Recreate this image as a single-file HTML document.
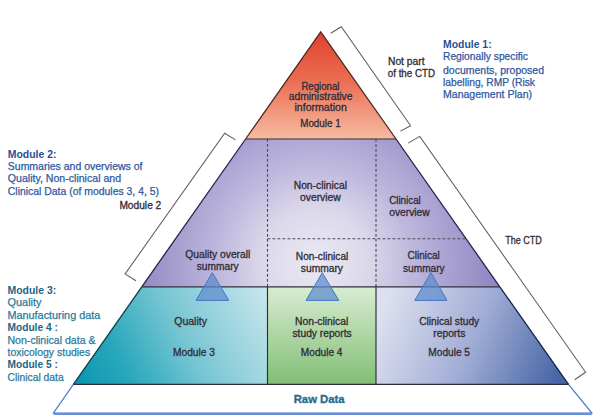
<!DOCTYPE html>
<html><head><meta charset="utf-8"><style>
html,body{margin:0;padding:0;background:#fff;}
body{width:600px;height:415px;overflow:hidden;}
svg{display:block;}
text{font-family:"Liberation Sans",sans-serif;}
.lab{font-size:10px;fill:#302c36;stroke:#302c36;stroke-width:0.3;}
.blu{font-size:10.5px;fill:#3058a0;stroke:#3058a0;stroke-width:0.25;}
.blub{font-size:10.5px;fill:#2b4f96;font-weight:bold;}
.tea{font-size:10.5px;fill:#2a7b9c;stroke:#2a7b9c;stroke-width:0.25;}
.teab{font-size:10.5px;fill:#1d6686;font-weight:bold;}
</style></head><body>
<svg width="600" height="415" viewBox="0 0 600 415">
<defs>
<linearGradient id="gRed" x1="0" y1="0" x2="0" y2="1">
<stop offset="0" stop-color="#e0412e"/>
<stop offset="0.45" stop-color="#ea6d52"/>
<stop offset="1" stop-color="#f6bba2"/>
</linearGradient>
<radialGradient id="gPur" gradientUnits="userSpaceOnUse" cx="315" cy="262" r="190" fx="315" fy="262">
<stop offset="0" stop-color="#ebe9f3"/>
<stop offset="0.28" stop-color="#dcd8eb"/>
<stop offset="0.5" stop-color="#c0b9de"/>
<stop offset="0.75" stop-color="#a59ccf"/>
<stop offset="1" stop-color="#8c81be"/>
</radialGradient>
<linearGradient id="gTeal" gradientUnits="userSpaceOnUse" x1="80" y1="384" x2="268" y2="287">
<stop offset="0" stop-color="#0d98b0"/>
<stop offset="0.22" stop-color="#28a7bc"/>
<stop offset="0.52" stop-color="#74c4d1"/>
<stop offset="1" stop-color="#c9e7ed"/>
</linearGradient>
<linearGradient id="gGreen" x1="0" y1="0" x2="0" y2="1">
<stop offset="0" stop-color="#d8ecd2"/>
<stop offset="1" stop-color="#82bf75"/>
</linearGradient>
<linearGradient id="gBlue" gradientUnits="userSpaceOnUse" x1="385" y1="300" x2="560" y2="372">
<stop offset="0" stop-color="#dde0ef"/>
<stop offset="0.5" stop-color="#a2aed6"/>
<stop offset="1" stop-color="#4866a6"/>
</linearGradient>
</defs>

<!-- raw data trapezoid -->
<polygon points="73.4,384.3 568.5,384.3 591.8,413 53.5,413" fill="#fff" stroke="#4a78d0" stroke-width="1.2"/>
<line x1="53.5" y1="414" x2="591.8" y2="414" stroke="#6a8fd8" stroke-width="2"/>

<!-- module 1 -->
<polygon points="320.7,32 396,139 246,139" fill="url(#gRed)"/>
<!-- module 2 -->
<polygon points="245.6,139 396,139 499.8,286.8 141.8,286.8" fill="url(#gPur)"/>
<!-- module 3 -->
<polygon points="141.8,286.8 267.5,286.8 267.5,384.3 73.4,384.3" fill="url(#gTeal)"/>
<!-- module 4 -->
<rect x="267.5" y="286.8" width="108.5" height="97.5" fill="url(#gGreen)"/>
<!-- module 5 -->
<polygon points="376,286.8 499.8,286.8 568.5,384.3 376,384.3" fill="url(#gBlue)"/>

<!-- dashed lines -->
<g stroke="#4a4858" stroke-width="1.1" stroke-dasharray="2.8,2.2" fill="none">
<line x1="267.5" y1="139" x2="267.5" y2="286.8"/>
<line x1="376" y1="139" x2="376" y2="286.8"/>
<line x1="267.5" y1="238.7" x2="466" y2="238.7"/>
</g>
<!-- solid lines -->
<g stroke="#2e2e3a" stroke-width="1.15" fill="none">
<line x1="246" y1="139" x2="396" y2="139"/>
<line x1="141.8" y1="286.8" x2="499.8" y2="286.8"/>
<line x1="73.4" y1="384.3" x2="568.5" y2="384.3"/>
<line x1="267.5" y1="286.8" x2="267.5" y2="384.3"/>
<line x1="376" y1="286.8" x2="376" y2="384.3"/>
</g>
<!-- outline -->
<g fill="none" stroke-width="1.3">
<polyline points="245.6,139 320.7,32 396,139" stroke="#4a2620"/>
<line x1="245.6" y1="139" x2="141.8" y2="286.8" stroke="#25244a"/>
<line x1="396" y1="139" x2="499.8" y2="286.8" stroke="#25244a"/>
<line x1="141.8" y1="286.8" x2="73.4" y2="384.3" stroke="#103e48"/>
<line x1="499.8" y1="286.8" x2="568.5" y2="384.3" stroke="#18224a"/>
</g>

<!-- small triangles -->
<g fill="#5d8acc" fill-opacity="0.72" stroke="#4676c4" stroke-width="1">
<polygon points="212.3,272.7 228.8,300.4 196,300.4"/>
<polygon points="322.3,272.7 338.8,300.4 306,300.4"/>
<polygon points="431,272.7 447,300.4 414.7,300.4"/>
</g>

<!-- brackets -->
<g stroke="#5e5e5e" stroke-width="1.05" fill="none">
<polyline points="330.7,33.3 341.3,26.7 410.6,125.7 400.4,131.1"/>
<polyline points="408.2,143.1 419.75,136.4 585.6,372.3 574.6,379.7"/>
<polyline points="235.5,139.9 224.7,133.3 125.1,273.9 135.9,280.7"/>
</g>

<!-- pyramid labels -->
<g class="lab">
<text x="301.4" y="89.5" textLength="38.1" lengthAdjust="spacingAndGlyphs">Regional</text>
<text x="288.7" y="100.3" textLength="63.8" lengthAdjust="spacingAndGlyphs">administrative</text>
<text x="294.5" y="111.1" textLength="52.3" lengthAdjust="spacingAndGlyphs">information</text>
<text x="300.2" y="127" textLength="40.5" lengthAdjust="spacingAndGlyphs">Module 1</text>

<text x="185.3" y="258.3" textLength="65" lengthAdjust="spacingAndGlyphs">Quality overall</text>
<text x="196.7" y="269.5" textLength="42" lengthAdjust="spacingAndGlyphs">summary</text>

<text x="293.7" y="188.7" textLength="53.3" lengthAdjust="spacingAndGlyphs">Non-clinical</text>
<text x="300" y="200.5" textLength="40.8" lengthAdjust="spacingAndGlyphs">overview</text>

<text x="295.8" y="259.7" textLength="52.5" lengthAdjust="spacingAndGlyphs">Non-clinical</text>
<text x="300.8" y="272" textLength="42.2" lengthAdjust="spacingAndGlyphs">summary</text>

<text x="389.2" y="203.8" textLength="31.6" lengthAdjust="spacingAndGlyphs">Clinical</text>
<text x="389.2" y="215.8" textLength="40.5" lengthAdjust="spacingAndGlyphs">overview</text>

<text x="407.5" y="258.7" textLength="32.2" lengthAdjust="spacingAndGlyphs">Clinical</text>
<text x="403" y="272.1" textLength="41.7" lengthAdjust="spacingAndGlyphs">summary</text>

<text x="174.2" y="325.3" textLength="32.8" lengthAdjust="spacingAndGlyphs">Quality</text>
<text x="173" y="356.3" textLength="42" lengthAdjust="spacingAndGlyphs">Module 3</text>

<text x="295" y="324.7" textLength="53.3" lengthAdjust="spacingAndGlyphs">Non-clinical</text>
<text x="292.5" y="336.7" textLength="59.2" lengthAdjust="spacingAndGlyphs">study reports</text>
<text x="300.8" y="356.3" textLength="41.7" lengthAdjust="spacingAndGlyphs">Module 4</text>

<text x="419.2" y="325" textLength="60" lengthAdjust="spacingAndGlyphs">Clinical study</text>
<text x="433.3" y="336.7" textLength="32" lengthAdjust="spacingAndGlyphs">reports</text>
<text x="428.3" y="356.3" textLength="41.7" lengthAdjust="spacingAndGlyphs">Module 5</text>

<text x="388" y="65" textLength="36.5" lengthAdjust="spacingAndGlyphs">Not part</text>
<text x="387.8" y="76.8" textLength="47.2" lengthAdjust="spacingAndGlyphs">of the CTD</text>
<text x="505.2" y="244.3" textLength="36.7" lengthAdjust="spacingAndGlyphs">The CTD</text>
<text x="119.4" y="208.5" textLength="41.9" lengthAdjust="spacingAndGlyphs">Module 2</text>
</g>

<!-- Raw data -->
<text x="293.7" y="402.7" textLength="51" lengthAdjust="spacingAndGlyphs" style="font-size:11px;font-weight:bold;fill:#1e6c90;stroke:#1e6c90;stroke-width:0.3">Raw Data</text>

<!-- module 1 desc -->
<text class="blub" x="443" y="47.6" textLength="48.6" lengthAdjust="spacingAndGlyphs">Module 1:</text>
<text class="blu" x="443" y="60.4" textLength="85" lengthAdjust="spacingAndGlyphs">Regionally specific</text>
<text class="blu" x="443" y="73.5" textLength="101" lengthAdjust="spacingAndGlyphs">documents, proposed</text>
<text class="blu" x="443" y="85.6" textLength="92" lengthAdjust="spacingAndGlyphs">labelling, RMP (Risk</text>
<text class="blu" x="443" y="97.5" textLength="89" lengthAdjust="spacingAndGlyphs">Management Plan)</text>

<!-- module 2 desc -->
<text class="blub" x="7.8" y="157.5" textLength="48.6" lengthAdjust="spacingAndGlyphs">Module 2:</text>
<text class="blu" x="7.8" y="169.8" textLength="134.7" lengthAdjust="spacingAndGlyphs">Summaries and overviews of</text>
<text class="blu" x="7.8" y="182.1" textLength="113.3" lengthAdjust="spacingAndGlyphs">Quality, Non-clinical and</text>
<text class="blu" x="7.8" y="194.9" textLength="151.2" lengthAdjust="spacingAndGlyphs">Clinical Data (of modules 3, 4, 5)</text>

<!-- module 3-5 desc -->
<text class="teab" x="7.5" y="294" textLength="48.7" lengthAdjust="spacingAndGlyphs">Module 3:</text>
<text class="tea" x="7.5" y="306.2" textLength="34" lengthAdjust="spacingAndGlyphs">Quality</text>
<text class="tea" x="7.5" y="318.5" textLength="92.8" lengthAdjust="spacingAndGlyphs">Manufacturing data</text>
<text class="teab" x="7.5" y="331.2" textLength="50.3" lengthAdjust="spacingAndGlyphs">Module 4 :</text>
<text class="tea" x="7.5" y="343.7" textLength="88" lengthAdjust="spacingAndGlyphs">Non-clinical data &amp;</text>
<text class="tea" x="7.5" y="355.9" textLength="82.7" lengthAdjust="spacingAndGlyphs">toxicology studies</text>
<text class="teab" x="7.5" y="368.1" textLength="50.3" lengthAdjust="spacingAndGlyphs">Module 5 :</text>
<text class="tea" x="7.5" y="381" textLength="56.2" lengthAdjust="spacingAndGlyphs">Clinical data</text>
</svg>
</body></html>
